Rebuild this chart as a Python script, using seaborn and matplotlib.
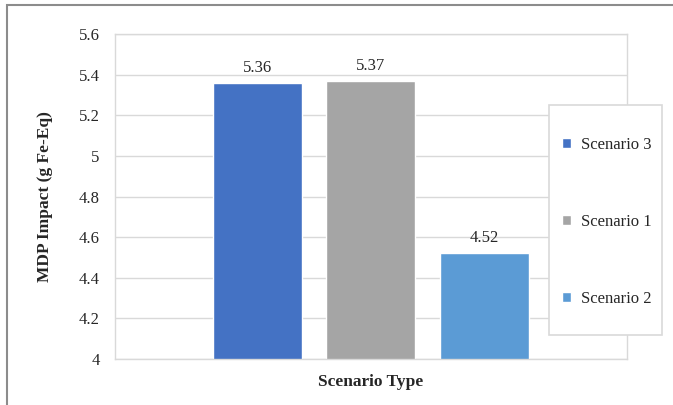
"""Bar chart of MDP impact per scenario"""

import matplotlib.pyplot as plt
from matplotlib.patches import Rectangle
from matplotlib.ticker import MultipleLocator, FuncFormatter
import pandas as pd
import seaborn as sns

scenarios = ["Scenario 3", "Scenario 1", "Scenario 2"]
impact = [5.36, 5.37, 4.52]
colors = ["#4472C4", "#A5A5A5", "#5B9BD5"]

data = pd.DataFrame({"scenario": scenarios, "impact": impact})

sns.set_style("white")
plt.rcParams["font.family"] = ["Liberation Serif", "DejaVu Serif"]
txt = "#262626"
grid = "#d9d9d9"

fig, ax = plt.subplots(figsize=(6.73, 4.05), dpi=100)
fig.subplots_adjust(0.1709, 0.1136, 0.9316, 0.916)

sns.barplot(data=data, x="scenario", y="impact", hue="scenario",
            palette=dict(zip(scenarios, colors)), order=scenarios,
            hue_order=scenarios, width=0.784, saturation=1, legend=True,
            ax=ax, zorder=2)

for cont in ax.containers:
    ax.bar_label(cont, fmt="%.2f", padding=5, fontsize=12, color=txt)

ax.set_ylim(4, 5.6)
ax.set_xlim(-1.255, 3.255)
ax.yaxis.set_major_locator(MultipleLocator(0.2))
ax.yaxis.set_major_formatter(FuncFormatter(lambda v, p: f"{v:.1f}".rstrip("0").rstrip(".")))
ax.set_xticks([])
ax.grid(axis="y", color=grid, lw=1, zorder=0)
ax.set_axisbelow(True)
ax.tick_params(axis="y", length=0, pad=11, labelsize=12, labelcolor=txt)
for s in ax.spines.values():
    s.set_color(grid)
    s.set_linewidth(1)

ax.set_ylabel("MDP Impact (g Fe-Eq)", fontsize=12.5, fontweight="bold", color=txt)
ax.yaxis.set_label_coords(-0.121, 0.5)
ax.set_xlabel("Scenario Type", fontsize=12.5, fontweight="bold", color=txt)
ax.xaxis.set_label_coords(0.5, -0.071)
ax.xaxis.label.set_va("center")

# legend box drawn separately so the padding can differ per side
ax.add_patch(Rectangle((0.8477, 0.0738), 0.2207, 0.7077, transform=ax.transAxes,
                       facecolor="white", edgecolor=grid, lw=1.2, zorder=4,
                       clip_on=False))
sns.move_legend(ax, loc="center left", bbox_to_anchor=(0.873, 0.422), title=None,
                frameon=False, fontsize=12,
                handlelength=0.55, handleheight=0.55, handletextpad=0.6,
                labelspacing=3.64, borderpad=0, borderaxespad=0)
ax.get_legend().set_zorder(5)
for t in ax.get_legend().get_texts():
    t.set_color(txt)

fig.add_artist(Rectangle((7 / 673, -0.1), 1.2, 1.1 - 5 / 405, transform=fig.transFigure,
                         fill=False, edgecolor="#8c8c8c", lw=1.5))

plt.savefig("out.png", dpi=100)
